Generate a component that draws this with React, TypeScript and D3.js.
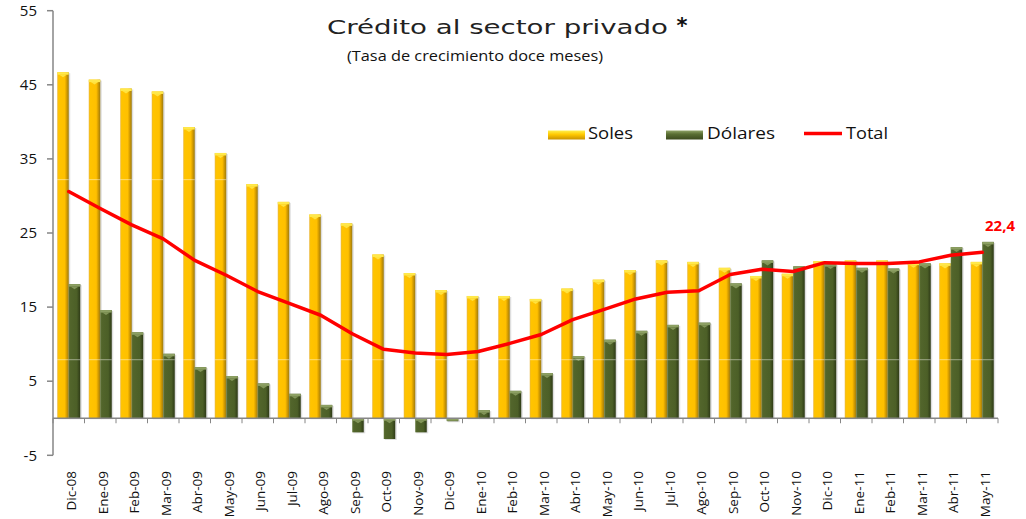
import React from 'react';
import * as d3 from 'd3';

// Crédito al sector privado - tasa de crecimiento doce meses (%)
const categories = [
  'Dic-08', 'Ene-09', 'Feb-09', 'Mar-09', 'Abr-09', 'May-09', 'Jun-09', 'Jul-09',
  'Ago-09', 'Sep-09', 'Oct-09', 'Nov-09', 'Dic-09', 'Ene-10', 'Feb-10', 'Mar-10',
  'Abr-10', 'May-10', 'Jun-10', 'Jul-10', 'Ago-10', 'Sep-10', 'Oct-10', 'Nov-10',
  'Dic-10', 'Ene-11', 'Feb-11', 'Mar-11', 'Abr-11', 'May-11',
];

const soles = [
  46.7, 45.7, 44.5, 44.1, 39.3, 35.8, 31.6, 29.2, 27.5, 26.3, 22.1, 19.6, 17.3, 16.5, 16.5,
  16.1, 17.5, 18.7, 20.0, 21.3, 21.1, 20.3, 19.2, 19.5, 21.2, 21.3, 21.3, 21.0, 20.9, 21.1,
];

const dolares = [
  18.1, 14.6, 11.6, 8.7, 6.9, 5.7, 4.7, 3.3, 1.8, -1.9, -2.8, -1.9, -0.4, 1.1, 3.7,
  6.1, 8.4, 10.6, 11.8, 12.6, 12.9, 18.2, 21.3, 20.5, 20.8, 20.3, 20.2, 20.9, 23.1, 23.8,
];

const total = [
  30.6, 28.3, 26.1, 24.2, 21.3, 19.3, 17.1, 15.5, 13.9, 11.4, 9.3, 8.8, 8.6, 9.0, 10.1,
  11.3, 13.3, 14.7, 16.1, 17.0, 17.2, 19.4, 20.1, 19.8, 21.0, 20.9, 20.9, 21.1, 22.0, 22.4,
];

const yTicks = [-5, 5, 15, 25, 35, 45, 55];
const seriesNames = ['Soles', 'Dólares'];
// faint horizontal seams visible across the bars in the original picture
const seams = [32.2, 7.9];

const W = 1026;
const H = 519;

const x = d3.scaleBand<string>().domain(categories).range([53, 998]).paddingInner(0).paddingOuter(0);
const y = d3.scaleLinear().domain([-5, 55]).range([455.3, 10.7]);
const sub = d3.scaleBand<string>().domain(seriesNames).range([-11.5, 11.5]).padding(0);

const font = '"Open Sans", sans-serif';

export default function App() {
  const step = x.step();
  const cx = (c: string) => (x(c) as number) + step / 2;
  const y0 = y(0);

  const line = d3.line<number>()
    .x((_, i) => cx(categories[i]))
    .y((d) => y(d));

  const bar = (series: string, values: number[], fill: string, cap: string) =>
    values.map((v, i) => {
      const c = categories[i];
      const bx = cx(c) + (sub(series) as number);
      const bw = sub.bandwidth();
      const top = Math.min(y(v), y0);
      const h = Math.abs(y(v) - y0);
      const lo = Math.min(v, 0);
      const hi = Math.max(v, 0);
      return (
        <g key={series + c}>
          <rect x={bx + 1} y={top + 1} width={bw + 0.5} height={h} fill="#000" opacity={0.13} />
          <rect x={bx} y={top} width={bw} height={h} fill={fill} />
          <rect x={bx} y={top} width={bw} height={Math.min(2.5, h)} fill={cap} />
          {h > 4 && (
            <path
              d={`M${bx + 2},${top + 2.5}L${bx + bw - 2},${top + 2.5}L${bx + bw / 2},${top + 5}Z`}
              fill={cap}
              opacity={0.85}
            />
          )}
          {seams.filter((s) => s > lo && s < hi).map((s) => (
            <line key={s} x1={bx} x2={bx + bw} y1={y(s)} y2={y(s)} stroke="#fff" strokeOpacity={0.45} strokeWidth={1} />
          ))}
        </g>
      );
    });

  return (
    <svg width={W} height={H} style={{ position: 'absolute', left: 0, top: 0, background: '#fff' }}>
      <defs>
        <linearGradient id="gSoles" x1="0" x2="1" y1="0" y2="0">
          <stop offset="0%" stopColor="#E9B640" />
          <stop offset="12%" stopColor="#FFC400" />
          <stop offset="65%" stopColor="#FFC000" />
          <stop offset="80%" stopColor="#D9A000" />
          <stop offset="100%" stopColor="#9C7A10" />
        </linearGradient>
        <linearGradient id="gDol" x1="0" x2="1" y1="0" y2="0">
          <stop offset="0%" stopColor="#5E7235" />
          <stop offset="15%" stopColor="#52652B" />
          <stop offset="70%" stopColor="#4C5F27" />
          <stop offset="100%" stopColor="#2E3A16" />
        </linearGradient>
        <linearGradient id="lSoles" x1="0" x2="0" y1="0" y2="1">
          <stop offset="0%" stopColor="#FFF04A" />
          <stop offset="45%" stopColor="#FFC800" />
          <stop offset="100%" stopColor="#C99300" />
        </linearGradient>
        <linearGradient id="lDol" x1="0" x2="0" y1="0" y2="1">
          <stop offset="0%" stopColor="#8FA266" />
          <stop offset="40%" stopColor="#5A6E33" />
          <stop offset="100%" stopColor="#3C4A1E" />
        </linearGradient>
      </defs>

      {/* Title */}
      <text x={327} y={34} fontFamily='"DejaVu Sans", sans-serif' fontSize={19} fill="#222"
        textLength={341} lengthAdjust="spacingAndGlyphs">
        Crédito al sector privado
      </text>
      <text x={682} y={33} textAnchor="middle" fontFamily='"DejaVu Sans", sans-serif' fontWeight="bold" fontSize={21} fill="#111">*</text>
      <text x={347} y={61} fontFamily={font} fontSize={15} fill="#111"
        textLength={256} lengthAdjust="spacingAndGlyphs">
        (Tasa de crecimiento doce meses)
      </text>

      {/* Bars */}
      {bar('Soles', soles, 'url(#gSoles)', '#FFE84A')}
      {bar('Dólares', dolares, 'url(#gDol)', '#8C9F62')}

      {/* Y axis */}
      <line x1={53} x2={53} y1={y(55)} y2={y(-5)} stroke="#868686" strokeWidth={1.5} />
      {yTicks.map((t) => (
        <g key={t}>
          <line x1={47} x2={53} y1={y(t)} y2={y(t)} stroke="#868686" strokeWidth={1.5} />
          <text x={37} y={y(t)} dy="0.35em" textAnchor="end" fontFamily={font} fontSize={15} fill="#111">{t}</text>
        </g>
      ))}

      {/* X axis at zero */}
      <line x1={53} x2={998} y1={y0} y2={y0} stroke="#868686" strokeWidth={1.5} />
      {d3.range(categories.length + 1).map((i) => (
        <line key={i} x1={53 + i * step} x2={53 + i * step} y1={y0} y2={y0 + 5} stroke="#868686" strokeWidth={1} />
      ))}
      {categories.map((c) => (
        <text key={c} transform={`translate(${cx(c) + 3},471) rotate(-90)`} dy="0.35em" textAnchor="end"
          fontFamily={font} fontSize={13.5} fill="#111">{c}</text>
      ))}

      {/* Total line */}
      <path d={line(total) || ''} fill="none" stroke="#FF0000" strokeWidth={3.5} strokeLinejoin="round" strokeLinecap="round" />
      <text x={1000} y={231} textAnchor="middle" fontFamily={font} fontWeight="bold" fontSize={15} fill="#FF0000">
        {String(total[total.length - 1]).replace('.', ',')}
      </text>

      {/* Legend */}
      <rect x={548} y={130.5} width={37} height={9} fill="url(#lSoles)" />
      <text x={588} y={138.5} fontFamily={font} fontSize={16} fill="#111" textLength={45} lengthAdjust="spacingAndGlyphs">Soles</text>
      <rect x={666} y={130.5} width={37} height={9} fill="url(#lDol)" />
      <text x={707} y={138.5} fontFamily={font} fontSize={16} fill="#111" textLength={68} lengthAdjust="spacingAndGlyphs">Dólares</text>
      <line x1={804} x2={842} y1={133.5} y2={133.5} stroke="#FF0000" strokeWidth={3.5} />
      <text x={846} y={138.5} fontFamily={font} fontSize={16} fill="#111" textLength={42} lengthAdjust="spacingAndGlyphs">Total</text>
    </svg>
  );
}
